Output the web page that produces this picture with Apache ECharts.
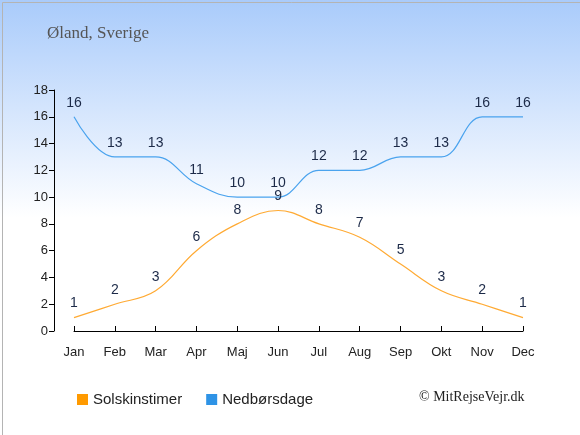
<!DOCTYPE html>
<html>
<head>
<meta charset="utf-8">
<script src="https://cdn.jsdelivr.net/npm/echarts@6/dist/echarts.min.js"></script>
<style>
  html, body { margin: 0; padding: 0; }
  #chart { width: 580px; height: 435px; }
</style>
</head>
<body>
<div id="chart"></div>
<script>
const months = ["Jan", "Feb", "Mar", "Apr", "Maj", "Jun", "Jul", "Aug", "Sep", "Okt", "Nov", "Dec"]
const sunHours = [1, 2, 3, 6, 8, 9, 8, 7, 5, 3, 2, 1]
const rainDays = [16, 13, 13, 11, 10, 10, 12, 12, 13, 13, 16, 16]
const yTicks = { min: 0, max: 18, interval: 2 }

const chart = echarts.init(document.getElementById("chart"))

const labelStyle = {
  show: true,
  position: "top",
  distance: 7,
  color: "#1c2a48",
  fontSize: 14,
  fontFamily: "Liberation Sans, Arial, sans-serif"
}

const option = {
  backgroundColor: {
    type: "linear", x: 0, y: 0, x2: 0, y2: 1,
    colorStops: [
      { offset: 0, color: "#a9cbfb" },
      { offset: 0.5, color: "#ffffff" },
      { offset: 1, color: "#ffffff" }
    ]
  },
  animation: false,
  title: {
    text: "Øland, Sverige",
    left: 42,
    top: 20,
    textStyle: {
      fontFamily: "Liberation Serif, DejaVu Serif, serif",
      fontWeight: "normal",
      fontSize: 17,
      color: "#555555"
    }
  },
  grid: { left: 74, right: 57, top: 90, bottom: 104 },
  legend: {
    left: 72,
    top: 387,
    itemWidth: 11,
    itemHeight: 11,
    itemGap: 24,
    icon: "rect",
    textStyle: { fontSize: 15, color: "#222", fontFamily: "Liberation Sans, Arial, sans-serif" },
    data: ["Solskinstimer", "Nedbørsdage"]
  },
  graphic: [
    {
      type: "text",
      left: 419,
      top: 390,
      style: {
        text: "© MitRejseVejr.dk",
        fontFamily: "Liberation Serif, DejaVu Serif, serif",
        fontSize: 14,
        fill: "#222"
      }
    },
    {
      type: "rect",
      left: 0, top: 0,
      shape: { x: 0.5, y: 0.5, width: 579, height: 434 },
      style: { fill: "none", stroke: "#b4b4b4", lineWidth: 1 },
      silent: true
    }
  ],
  xAxis: {
    type: "category",
    data: months,
    boundaryGap: false,
    offset: 10,
    axisLine: { lineStyle: { color: "#000" } },
    axisTick: { inside: true, length: 5, lineStyle: { color: "#000" } },
    axisLabel: { color: "#222", fontSize: 13, margin: 5, fontFamily: "Liberation Sans, Arial, sans-serif" },
    splitLine: { show: false }
  },
  yAxis: {
    type: "value",
    min: yTicks.min,
    max: yTicks.max,
    interval: yTicks.interval,
    offset: 20,
    axisLine: { show: true, lineStyle: { color: "#000" } },
    axisTick: { show: true, length: 5, lineStyle: { color: "#000" } },
    axisLabel: { color: "#222", fontSize: 13, margin: 6, fontFamily: "Liberation Sans, Arial, sans-serif" },
    splitLine: { show: false }
  },
  series: [
    {
      name: "Solskinstimer",
      type: "line",
      data: sunHours,
      smooth: 0.4,
      symbol: "circle",
      symbolSize: 0,
      color: "#ff9a00",
      lineStyle: { color: "#ffaa33", width: 1.2 },
      label: labelStyle
    },
    {
      name: "Nedbørsdage",
      type: "line",
      data: rainDays,
      smooth: 0.4,
      symbol: "circle",
      symbolSize: 0,
      color: "#2e93e6",
      lineStyle: { color: "#4aa3ee", width: 1.2 },
      label: labelStyle
    }
  ]
}

chart.setOption(option)
</script>
</body>
</html>
